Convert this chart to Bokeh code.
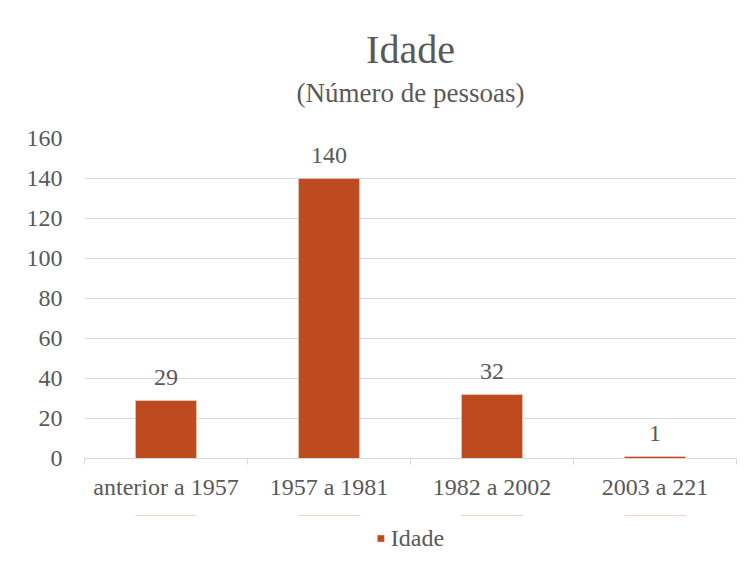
from bokeh.plotting import figure
from bokeh.layouts import column
from bokeh.models import (ColumnDataSource, Range1d, LabelSet, Legend, LegendItem,
                          Title, FixedTicker)
from bokeh.embed import file_html
from bokeh.resources import INLINE

categories = ["anterior a 1957", "1957 a 1981", "1982 a 2002", "2003 a 221"]
values = [29, 140, 32, 1]
y_ticks = [0, 20, 40, 60, 80, 100, 120, 140, 160]
title_text = "Idade"
subtitle_text = "(Número de pessoas)"
series_name = "Idade"

FONT = "Liberation Serif"
TXT = "#595959"
GRID = "#d9d9d9"
BAR = "#BE4B1F"
FS = "24px"

n = len(categories)
centers = [i + 0.5 for i in range(n)]
bounds = list(range(n + 1))
src = ColumnDataSource(dict(x=centers, val=values,
                            lab=[str(v) for v in values]))

p = figure(x_range=Range1d(0, n), y_range=Range1d(0, 160), width=741, height=515,
           output_backend="svg", toolbar_location=None, title=None,
           x_axis_location="below", y_axis_location="left",
           min_border_left=84, min_border_right=5, min_border_top=138,
           min_border_bottom=57)
p.outline_line_color = None
p.background_fill_color = "white"
p.border_fill_color = "white"

# titles (subtitle first = closest to frame)
p.add_layout(Title(text=subtitle_text, align="center", text_font=FONT,
                   text_font_size="27px", text_font_style="normal",
                   text_color=TXT, standoff=62), "above")
p.add_layout(Title(text=title_text, align="center", text_font=FONT,
                   text_font_size="40px", text_font_style="normal",
                   text_color=TXT, standoff=-54), "above")

# y axis
yax = p.yaxis[0]
yax.ticker = FixedTicker(ticks=y_ticks)
yax.axis_line_color = None
yax.major_tick_line_color = None
yax.minor_tick_line_color = None
yax.major_label_text_font = FONT
yax.major_label_text_font_size = FS
yax.major_label_text_color = TXT
yax.major_label_standoff = 16

p.xgrid.grid_line_color = None
p.ygrid.ticker = FixedTicker(ticks=y_ticks)
p.ygrid.grid_line_color = GRID
p.ygrid.grid_line_width = 1

# x axis: labels at category centres, small ticks at category boundaries
xax = p.xaxis[0]
xax.ticker = FixedTicker(ticks=centers, minor_ticks=bounds)
xax.major_label_overrides = {c: lab for c, lab in zip(centers, categories)}
xax.axis_line_color = GRID
xax.major_tick_line_color = None
xax.minor_tick_line_color = GRID
xax.minor_tick_in = 0
xax.minor_tick_out = 6
xax.major_label_text_font = FONT
xax.major_label_text_font_size = FS
xax.major_label_text_color = TXT
xax.major_label_standoff = 9

bars = p.vbar(x="x", top="val", width=0.375, source=src,
              fill_color=BAR, line_color="#f4d8cc", line_width=0.6)

labels = LabelSet(x="x", y="val", text="lab", source=src,
                  text_align="center", text_baseline="bottom", y_offset=16,
                  text_font=FONT, text_font_size=FS, text_color=TXT)
p.add_layout(labels)

# legend strip below the chart (same series; its bars fall outside this strip's view)
lg = figure(x_range=Range1d(0, n), y_range=Range1d(-2, -1), width=741, height=46,
            output_backend="svg", toolbar_location=None, title=None,
            x_axis_location=None, y_axis_location=None,
            min_border_left=50, min_border_right=5, min_border_top=0,
            min_border_bottom=0)
lg.outline_line_color = None
lg.xgrid.visible = False
lg.ygrid.visible = False
lg_bar = lg.vbar(x="x", top="val", width=0.375, source=src,
                 fill_color=BAR, line_color="#f4d8cc", line_width=0.6)
legend = Legend(items=[LegendItem(label=series_name, renderers=[lg_bar])],
                orientation="horizontal", location="center",
                label_text_font=FONT, label_text_font_size=FS,
                label_text_color=TXT, glyph_width=9, glyph_height=9,
                label_standoff=6, border_line_color=None,
                background_fill_alpha=0, padding=0, margin=0)
lg.add_layout(legend)

layout = column(p, lg, spacing=0)
open("out.html", "w").write(file_html(layout, INLINE))
